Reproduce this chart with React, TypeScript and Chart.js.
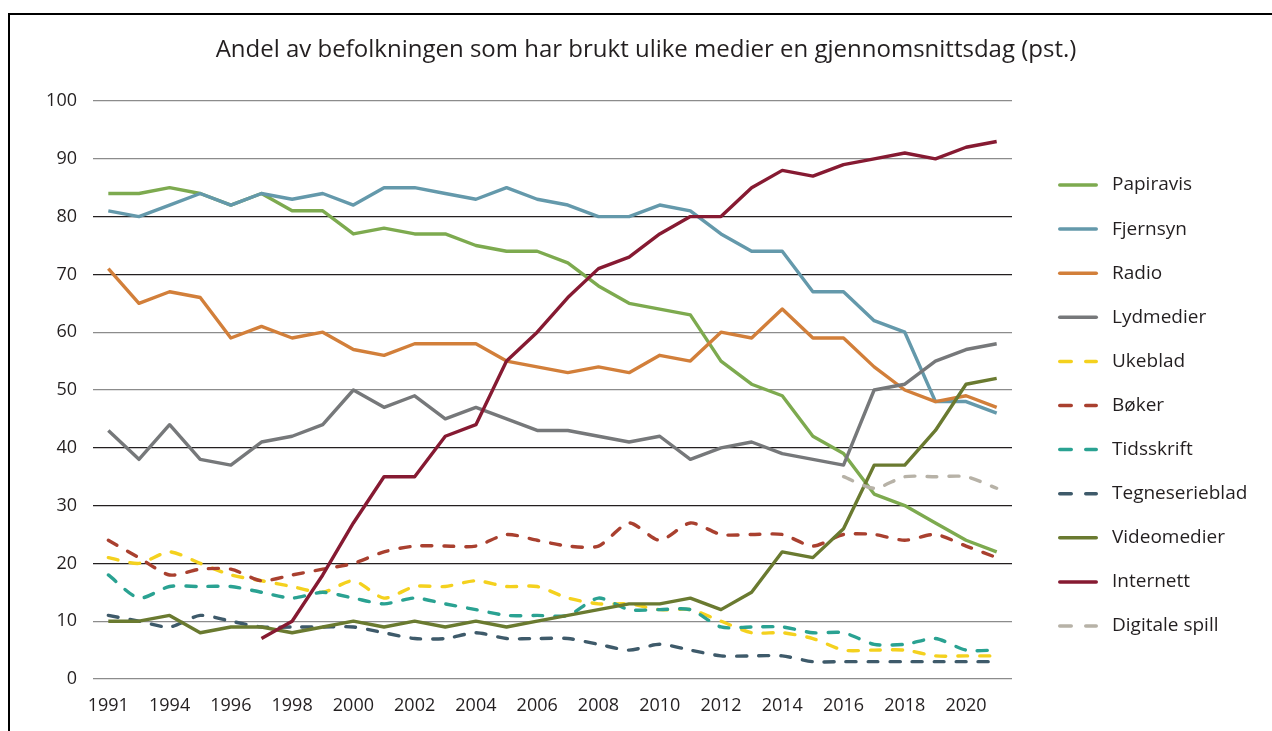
import React, { useEffect, useRef } from "react";
import { Chart, registerables } from "chart.js";

Chart.register(...registerables);

const years = [
  "1991", "1993", "1994", "1995", "1996", "1997", "1998", "1999", "2000", "2001",
  "2002", "2003", "2004", "2005", "2006", "2007", "2008", "2009", "2010", "2011",
  "2012", "2013", "2014", "2015", "2016", "2017", "2018", "2019", "2020", "2021",
];

const papiravis = [84, 84, 85, 84, 82, 84, 81, 81, 77, 78, 77, 77, 75, 74, 74, 72, 68, 65, 64, 63, 55, 51, 49, 42, 39, 32, 30, 27, 24, 22];
const fjernsyn = [81, 80, 82, 84, 82, 84, 83, 84, 82, 85, 85, 84, 83, 85, 83, 82, 80, 80, 82, 81, 77, 74, 74, 67, 67, 62, 60, 48, 48, 46];
const radio = [71, 65, 67, 66, 59, 61, 59, 60, 57, 56, 58, 58, 58, 55, 54, 53, 54, 53, 56, 55, 60, 59, 64, 59, 59, 54, 50, 48, 49, 47];
const lydmedier = [43, 38, 44, 38, 37, 41, 42, 44, 50, 47, 49, 45, 47, 45, 43, 43, 42, 41, 42, 38, 40, 41, 39, 38, 37, 50, 51, 55, 57, 58];
const ukeblad = [21, 20, 22, 20, 18, 17, 16, 15, 17, 14, 16, 16, 17, 16, 16, 14, 13, 13, 12, 12, 10, 8, 8, 7, 5, 5, 5, 4, 4, 4];
const boker = [24, 21, 18, 19, 19, 17, 18, 19, 20, 22, 23, 23, 23, 25, 24, 23, 23, 27, 24, 27, 25, 25, 25, 23, 25, 25, 24, 25, 23, 21];
const tidsskrift = [18, 14, 16, 16, 16, 15, 14, 15, 14, 13, 14, 13, 12, 11, 11, 11, 14, 12, 12, 12, 9, 9, 9, 8, 8, 6, 6, 7, 5, 5];
const tegneserieblad = [11, 10, 9, 11, 10, 9, 9, 9, 9, 8, 7, 7, 8, 7, 7, 7, 6, 5, 6, 5, 4, 4, 4, 3, 3, 3, 3, 3, 3, 3];
const videomedier = [10, 10, 11, 8, 9, 9, 8, 9, 10, 9, 10, 9, 10, 9, 10, 11, 12, 13, 13, 14, 12, 15, 22, 21, 26, 37, 37, 43, 51, 52];
const internett = [null, null, null, null, null, 7, 10, 18, 27, 35, 35, 42, 44, 55, 60, 66, 71, 73, 77, 80, 80, 85, 88, 87, 89, 90, 91, 90, 92, 93];
const digitaleSpill = [null, null, null, null, null, null, null, null, null, null, null, null, null, null, null, null, null, null, null, null, null, null, null, null, 35, 33, 35, 35, 35, 33];

const yTicks = [0, 10, 20, 30, 40, 50, 60, 70, 80, 90, 100];
const darkGridValues = [20, 30, 40, 70, 80];

const TITLE = "Andel av befolkningen som har brukt ulike medier en gjennomsnittsdag (pst.)";
const TEXT_COLOR = "#231f20";
const FONT = "'Open Sans', 'Noto Sans', sans-serif";

const series = [
  { label: "Papiravis", data: papiravis, color: "#7daa4f", dashed: false },
  { label: "Fjernsyn", data: fjernsyn, color: "#6499ab", dashed: false },
  { label: "Radio", data: radio, color: "#d27f3a", dashed: false },
  { label: "Lydmedier", data: lydmedier, color: "#76787a", dashed: false },
  { label: "Ukeblad", data: ukeblad, color: "#f4d11e", dashed: true },
  { label: "Bøker", data: boker, color: "#a9402f", dashed: true },
  { label: "Tidsskrift", data: tidsskrift, color: "#2aa292", dashed: true },
  { label: "Tegneserieblad", data: tegneserieblad, color: "#3e5a6a", dashed: true },
  { label: "Videomedier", data: videomedier, color: "#6a7a30", dashed: false },
  { label: "Internett", data: internett, color: "#861a32", dashed: false },
  { label: "Digitale spill", data: digitaleSpill, color: "#b7b2a7", dashed: true },
];

const sideLegend = {
  id: "sideLegend",
  afterDraw(chart: any) {
    const { ctx, chartArea } = chart;
    ctx.save();
    chart.data.datasets.forEach((ds: any, i: number) => {
      const y = chartArea.top + 84 + i * 44.1;
      const x0 = chartArea.right + 46;
      ctx.beginPath();
      ctx.strokeStyle = ds.borderColor;
      ctx.lineWidth = 3.5;
      ctx.lineCap = "round";
      ctx.setLineDash(ds.borderDash && ds.borderDash.length ? [11.5, 14.5] : []);
      ctx.moveTo(x0 + 1.75, y);
      ctx.lineTo(x0 + 38.25, y);
      ctx.stroke();
      ctx.setLineDash([]);
      ctx.fillStyle = TEXT_COLOR;
      ctx.font = `19px ${FONT}`;
      ctx.textBaseline = "middle";
      ctx.textAlign = "left";
      ctx.fillText(ds.label, chartArea.right + 100, y);
    });
    ctx.restore();
  },
};

export default function App() {
  const canvasRef = useRef<HTMLCanvasElement | null>(null);

  useEffect(() => {
    if (!canvasRef.current) return;
    const chart = new Chart(canvasRef.current, {
      type: "line",
      data: {
        labels: years,
        datasets: series.map((s, i) => ({
          label: s.label,
          data: s.data,
          borderColor: s.color,
          backgroundColor: s.color,
          borderWidth: 3.4,
          borderDash: s.dashed ? [10, 12] : [],
          borderCapStyle: s.dashed ? "round" : "butt",
          borderJoinStyle: "round",
          tension: s.dashed ? 0.25 : 0,
          pointRadius: 0,
          pointHoverRadius: 0,
          fill: false,
          order: series.length - i,
        })),
      },
      options: {
        responsive: true,
        maintainAspectRatio: false,
        animation: false,
        events: [],
        layout: { padding: 0 },
        plugins: {
          legend: { display: false },
          tooltip: { enabled: false },
          title: {
            display: true,
            text: TITLE,
            color: TEXT_COLOR,
            font: { family: FONT, size: 24, weight: "normal", lineHeight: 1.2 },
            padding: { top: 21, bottom: 36.2 },
          },
        },
        scales: {
          x: {
            type: "category",
            offset: true,
            grid: { display: false },
            border: { display: false },
            ticks: {
              autoSkip: false,
              maxRotation: 0,
              minRotation: 0,
              padding: 8,
              color: TEXT_COLOR,
              font: { family: FONT, size: 18 },
              callback: (_v: any, idx: number) => (idx % 2 === 0 ? years[idx] : ""),
            },
            afterFit: (s: any) => {
              s.height = 52;
            },
          },
          y: {
            min: 0,
            max: 100,
            afterBuildTicks: (s: any) => {
              s.ticks = yTicks.map((v) => ({ value: v }));
            },
            grid: {
              drawTicks: false,
              lineWidth: 1.2,
              color: (c: any) =>
                darkGridValues.includes(c.tick && c.tick.value) ? "#231f20" : "#8c8c8c",
            },
            border: { display: false },
            ticks: {
              padding: 16,
              color: TEXT_COLOR,
              font: { family: FONT, size: 18 },
            },
            afterFit: (s: any) => {
              s.width = 83;
            },
          },
          yR: {
            position: "right",
            display: true,
            grid: { display: false, drawOnChartArea: false },
            border: { display: false },
            ticks: { display: false },
            afterFit: (s: any) => {
              s.width = 270;
            },
          },
        },
      },
      plugins: [sideLegend],
    } as any);
    return () => chart.destroy();
  }, []);

  return (
    <div
      style={{
        position: "fixed",
        left: 0,
        top: 0,
        width: 1272,
        height: 731,
        overflow: "hidden",
        background: "#fff",
      }}
    >
      <div
        style={{
          position: "absolute",
          left: 8,
          top: 13,
          width: 1300,
          height: 800,
          border: "2px solid #000",
        }}
      >
        <div style={{ position: "absolute", left: 0, top: 0, width: 1272, height: 716 }}>
          <canvas ref={canvasRef} />
        </div>
      </div>
    </div>
  );
}
